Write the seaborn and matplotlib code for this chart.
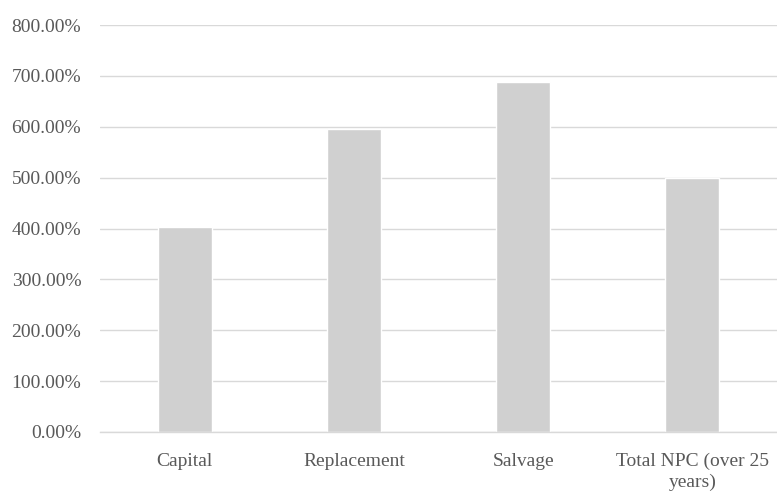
import matplotlib
matplotlib.use("Agg")
import matplotlib.pyplot as plt
import seaborn as sns
import pandas as pd
from matplotlib.ticker import FuncFormatter

categories = ["Capital", "Replacement", "Salvage", "Total NPC (over 25\nyears)"]
values = [403, 595, 688, 500]

sns.set_theme(style="white")
plt.rcParams['font.family'] = ['Liberation Serif', 'DejaVu Serif']

df = pd.DataFrame({"cat": categories, "val": values})

fig = plt.figure(figsize=(7.77, 4.93), dpi=100)
ax = fig.add_axes([100/777, 61/493, 677/777, 407/493])
sns.barplot(data=df, x="cat", y="val", color="#d0d0d0", width=0.32, ax=ax, saturation=1)

ax.set_ylim(0, 800)
ax.set_xlim(-0.5, 3.5)
ax.set_yticks(range(0, 801, 100))
ax.yaxis.set_major_formatter(FuncFormatter(lambda v, p: f"{v:.2f}%"))
ax.grid(axis="y", color="#d9d9d9", linewidth=1)
ax.set_axisbelow(True)
for s in ["top", "right", "left"]:
    ax.spines[s].set_visible(False)
ax.spines["bottom"].set_color("#d9d9d9")
ax.spines["bottom"].set_linewidth(1)
ax.set_xlabel("")
ax.set_ylabel("")
ax.tick_params(axis="both", length=0, labelcolor="#595959")
ax.tick_params(axis="y", pad=13.5, labelsize=14)
ax.tick_params(axis="x", pad=15, labelsize=14)
for t in ax.get_xticklabels():
    t.set_linespacing(1.25)

fig.savefig("out.png", dpi=100)
